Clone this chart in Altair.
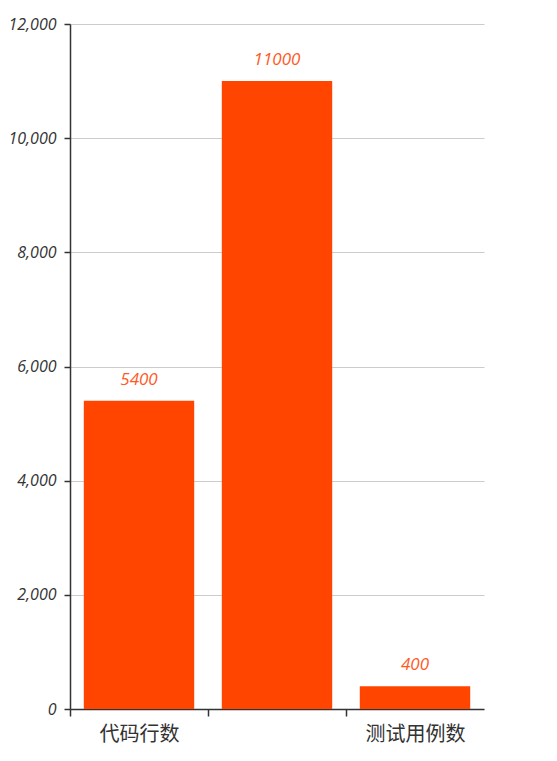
import altair as alt
import pandas as pd

categories = ["代码行数", "注释行数", "测试用例数"]
values = [5400, 11000, 400]
y_ticks = [0, 2000, 4000, 6000, 8000, 10000, 12000]

df = pd.DataFrame({"cat": categories, "val": values})

x_enc = alt.X(
    "cat:N",
    sort=categories,
    scale=alt.Scale(paddingInner=0.2, paddingOuter=0.1),
    axis=alt.Axis(
        title=None,
        labelAngle=0,
        labelFont="Noto Sans CJK SC",
        labelFontSize=20,
        labelColor="#333",
        labelPadding=8,
        labelExpr="datum.index == 0.5 ? '' : datum.label",
        tickOffset=-69,
        labelOffset=69,
        domainColor="#333",
        domainWidth=1.5,
        tickColor="#333",
        tickSize=7,
        tickWidth=1.5,
        grid=False,
    ),
)

y_enc = alt.Y(
    "val:Q",
    scale=alt.Scale(domain=[0, 12000], nice=False),
    axis=alt.Axis(
        title=None,
        values=y_ticks,
        format=",d",
        labelFont="Open Sans",
        labelFontStyle="italic",
        labelFontSize=16,
        labelColor="#333",
        labelPadding=8,
        domainColor="#333",
        domainWidth=1.5,
        tickColor="#333",
        tickSize=6,
        tickWidth=1.5,
        gridColor="#cccccc",
        gridWidth=1,
    ),
)

bars = alt.Chart(df).mark_bar(color="#ff4500").encode(x=x_enc, y=y_enc)

labels = alt.Chart(df).mark_text(
    baseline="bottom",
    dy=-12,
    color="#ff5a1f",
    font="Open Sans",
    fontStyle="italic",
    fontSize=17,
).encode(x=alt.X("cat:N", sort=categories), y="val:Q", text="val:Q")

chart = (
    (bars + labels)
    .properties(
        width=414,
        height=685,
        autosize=alt.AutoSizeParams(type="none"),
        padding={"left": 62, "top": 16, "right": 60, "bottom": 40},
    )
    .configure_view(stroke=None)
)

chart.save("out.html", embed_options={"renderer": "svg", "actions": False})
